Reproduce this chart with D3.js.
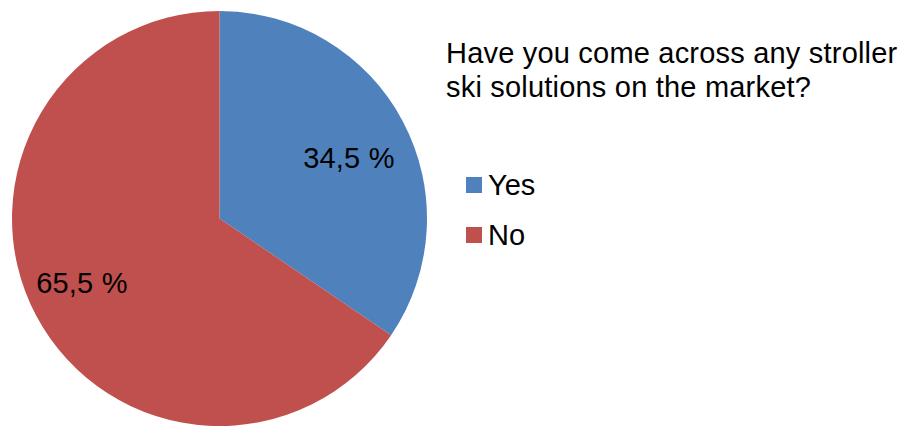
<!DOCTYPE html>
<html>
<head>
<meta charset="utf-8">
<script src="https://cdn.jsdelivr.net/npm/d3@7"></script>
<style>
  body { margin: 0; background: #fff; }
  svg { display: block; }
  text { font-family: "Liberation Sans", Arial, Helvetica, sans-serif; fill: #000; }
</style>
</head>
<body>
<svg width="902" height="426"></svg>
<script>
// values
var categories = ["Yes", "No"];
var values = [34.5, 65.5];
var valueLabels = ["34,5 %", "65,5 %"];
var colors = ["#4f81bd", "#c0504d"];
var titleLines = ["Have you come across any stroller", "ski solutions on the market?"];

var svg = d3.select("svg"),
    cx = 219.5, cy = 218.5, radius = 207.5;

var z = d3.scaleOrdinal().domain(categories).range(colors);

var pie = d3.pie().sort(null).value(function(d) { return d.value; });

var data = categories.map(function(c, i) { return {key: c, value: values[i], label: valueLabels[i]}; });

var arc = d3.arc().innerRadius(0).outerRadius(radius);

// label spot: a bit past the mid angle, like excel puts them
function labelPos(d) {
  var a = (d.startAngle + d.endAngle) / 2 + 0.048,
      r = d.index ? 152 : 143;
  return [r * Math.sin(a), -r * Math.cos(a)];
}

var g = svg.append("g").attr("transform", "translate(" + cx + "," + cy + ")");

var slices = g.selectAll(".slice")
  .data(pie(data))
  .enter().append("g")
    .attr("class", "slice");

slices.append("path")
    .attr("d", arc)
    .attr("fill", function(d) { return z(d.data.key); });

slices.append("text")
    .attr("transform", function(d) { return "translate(" + labelPos(d) + ")"; })
    .attr("text-anchor", "middle")
    .attr("dy", "0.35em")
    .style("font-size", "29px")
    .style("letter-spacing", "0.2px")
    .text(function(d) { return d.data.label; });

// title
var title = svg.append("text")
    .style("font-size", "29px")
    .style("letter-spacing", "0.2px");
title.selectAll("tspan")
  .data(titleLines)
  .enter().append("tspan")
    .attr("x", 446)
    .attr("y", function(d, i) { return 63 + i * 34; })
    .text(function(d) { return d; });

// legend
var legend = svg.selectAll(".legend")
  .data(categories)
  .enter().append("g")
    .attr("class", "legend")
    .attr("transform", function(d, i) { return "translate(466," + (177 + i * 50) + ")"; });

legend.append("rect")
    .attr("width", 16)
    .attr("height", 16)
    .attr("fill", function(d) { return z(d); });

legend.append("text")
    .attr("x", 22)
    .attr("y", 18)
    .style("font-size", "29px")
    .text(function(d) { return d; });
</script>
</body>
</html>
